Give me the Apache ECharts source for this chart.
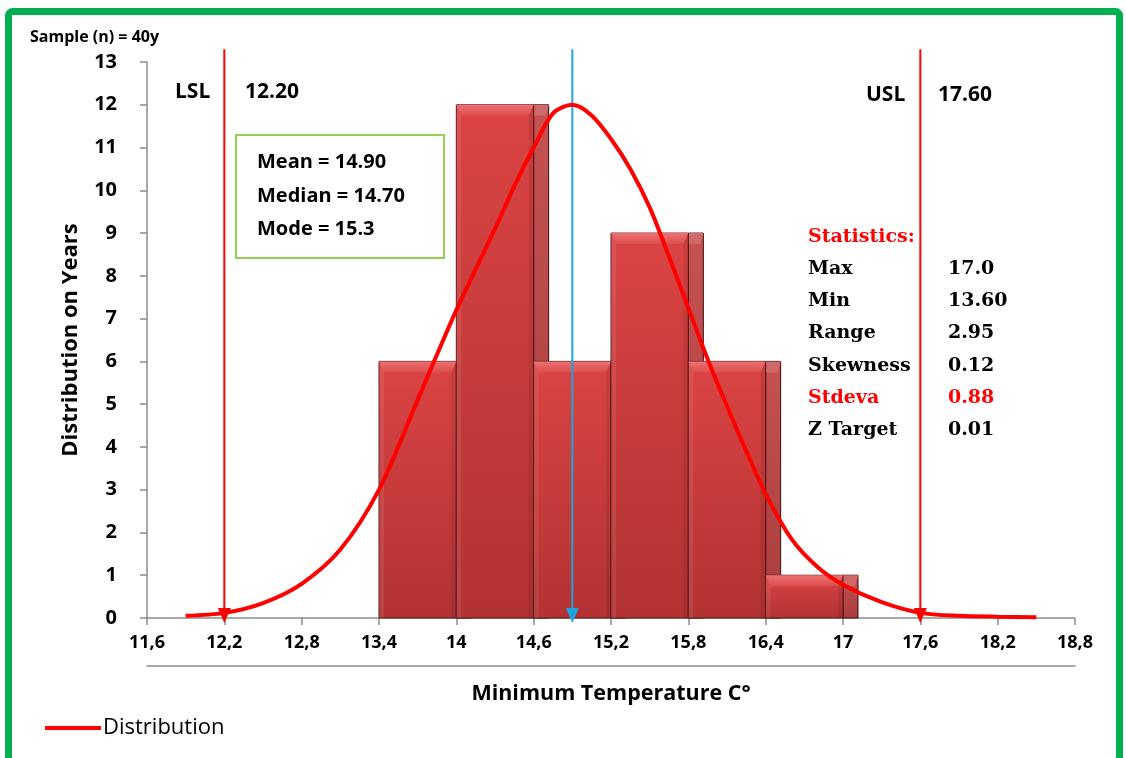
<!DOCTYPE html>
<html><head><meta charset="utf-8">
<script src="https://cdn.jsdelivr.net/npm/echarts@6/dist/echarts.min.js"></script>
<style>html,body{margin:0;padding:0;background:#fff}#c{width:1126px;height:758px}</style>
</head><body><div id="c"></div>
<script>
const xTicks = [11.6, 12.2, 12.8, 13.4, 14, 14.6, 15.2, 15.8, 16.4, 17, 17.6, 18.2, 18.8];
const binStart = [13.4, 14, 14.6, 15.2, 15.8, 16.4];
const binEnd = [14, 14.6, 15.2, 15.8, 16.4, 17];
const counts = [6, 12, 6, 9, 6, 1];
const curveX = [11.9, 12.2, 12.5, 12.8, 13.1, 13.4, 13.7, 14, 14.3, 14.45, 14.6, 14.75, 14.9, 15.05, 15.2, 15.35, 15.5, 15.65, 15.8, 15.95, 16.1, 16.25, 16.4, 16.6, 16.8, 17, 17.3, 17.6, 17.9, 18.2, 18.5];
const curveY = [0.05, 0.12, 0.35, 0.8, 1.6, 3.0, 5.1, 7.2, 9.1, 10.1, 11.0, 11.8, 12.0, 11.75, 11.2, 10.5, 9.6, 8.45, 7.25, 6.05, 4.95, 3.9, 2.9, 1.85, 1.2, 0.78, 0.37, 0.12, 0.05, 0.03, 0.02];
const lsl = 12.2, usl = 17.6, meanVal = 14.9, lineTop = 13.3;
const limitLines = [lsl, usl, meanVal];
const limitColors = ['#ff0000', '#ff0000', '#1ea5e0'];
const lslText = ['LSL', '12.20'];
const uslText = ['USL', '17.60'];
const boxLines = ['Mean = 14.90', 'Median = 14.70', 'Mode = 15.3'];
const statNames = ['Max', 'Min', 'Range', 'Skewness', 'Stdeva', 'Z Target'];
const statValues = ['17.0', '13.60', '2.95', '0.12', '0.88', '0.01'];
const statRed = [false, false, false, false, true, false];

const SANS = '"Open Sans", "Noto Sans", sans-serif';
const SERIF = '"DejaVu Serif", serif';

function renderBar(params, api) {
  const p0 = api.coord([api.value(0), api.value(2)]);
  const p1 = api.coord([api.value(1), 0]);
  const L = p0[0], T = p0[1], R = p1[0], B = p1[1];
  const d = 15, bv = 11, sb = 5;
  const lg = (c1, c2) => new echarts.graphic.LinearGradient(0, 0, 0, 1, [{offset: 0, color: c1}, {offset: 1, color: c2}]);
  return {
    type: 'group',
    children: [
      {type: 'rect', shape: {x: R, y: T, width: d, height: B - T},
        style: {fill: lg('#c65252', '#a83c3c'), stroke: '#3a0e0e', lineWidth: 1}},
      {type: 'polygon', shape: {points: [[R, T], [R + d, T], [R + d - 3, T + bv], [R, T + bv]]},
        style: {fill: '#d06a6a'}},
      {type: 'rect', shape: {x: L, y: T, width: R - L, height: B - T},
        style: {fill: lg('#db4444', '#b33232'), stroke: '#5a1616', lineWidth: 1}},
      {type: 'polygon', shape: {points: [[L, T], [R, T], [R - sb, T + bv], [L + sb, T + bv]]},
        style: {fill: lg('#ee7272', '#dc4d4d')}},
      {type: 'polygon', shape: {points: [[L, T], [L + sb, T + bv], [L + sb, B], [L, B]]},
        style: {fill: 'rgba(255,255,255,0.08)'}},
      {type: 'polygon', shape: {points: [[R, T], [R - sb, T + bv], [R - sb, B], [R, B]]},
        style: {fill: 'rgba(0,0,0,0.08)'}}
    ]
  };
}

function renderLimit(params, api) {
  const top = api.coord([api.value(0), lineTop]);
  const bot = api.coord([api.value(0), 0]);
  const col = limitColors[params.dataIndex];
  const x = top[0];
  return {
    type: 'group',
    children: [
      {type: 'line', shape: {x1: x, y1: top[1], x2: x, y2: bot[1] - 4}, style: {stroke: col, lineWidth: 2}},
      {type: 'polygon', shape: {points: [[x - 6.5, bot[1] - 10], [x + 6.5, bot[1] - 10], [x, bot[1] + 5]]}, style: {fill: col}}
    ]
  };
}

const graphics = [
  {type: 'rect', shape: {x: 8.5, y: 11.5, width: 1111, height: 800, r: 4},
    style: {fill: 'none', stroke: '#00b050', lineWidth: 7}, silent: true},
  {type: 'text', left: 30, top: 29, style: {text: 'Sample (n) = 40y', font: 'bold 16px ' + SANS, fill: '#000'}},
  {type: 'text', x: 175, y: 92, style: {text: lslText[0], font: 'bold 21px ' + SANS, fill: '#000', verticalAlign: 'middle'}},
  {type: 'text', x: 245, y: 92, style: {text: lslText[1], font: 'bold 21px ' + SANS, fill: '#000', verticalAlign: 'middle'}},
  {type: 'text', x: 866, y: 95, style: {text: uslText[0], font: 'bold 21px ' + SANS, fill: '#000', verticalAlign: 'middle'}},
  {type: 'text', x: 938, y: 95, style: {text: uslText[1], font: 'bold 21px ' + SANS, fill: '#000', verticalAlign: 'middle'}},
  {type: 'rect', shape: {x: 236, y: 135, width: 208, height: 123},
    style: {fill: '#fff', stroke: '#92d050', lineWidth: 2}, z: 10}
];
const boxY = [162, 196, 229];
boxLines.forEach((t, i) => graphics.push({type: 'text', x: 257, y: boxY[i], z: 11,
  style: {text: t, font: 'bold 20px ' + SANS, fill: '#000', verticalAlign: 'middle'}}));
graphics.push({type: 'text', x: 808, y: 237, style: {text: 'Statistics:', font: 'bold 19px ' + SERIF, fill: '#ff0000', verticalAlign: 'middle'}});
const statY = [269, 301, 333, 366, 398, 430];
statNames.forEach((t, i) => {
  const col = statRed[i] ? '#ff0000' : '#000';
  graphics.push({type: 'text', x: 808, y: statY[i], style: {text: t, font: 'bold 19px ' + SERIF, fill: col, verticalAlign: 'middle'}});
  graphics.push({type: 'text', x: 948, y: statY[i], style: {text: statValues[i], font: 'bold 19px ' + SERIF, fill: col, verticalAlign: 'middle'}});
});

const chart = echarts.init(document.getElementById('c'), null, {renderer: 'canvas'});
chart.setOption({
  animation: false,
  backgroundColor: '#fff',
  grid: {left: 147, right: 51, top: 62, bottom: 140},
  legend: {
    data: ['Distribution'], left: 40, top: 712, icon: 'rect', itemWidth: 56, itemHeight: 4, itemGap: 4,
    textStyle: {fontSize: 22, fontFamily: SANS, color: '#000', padding: [0, 0, 0, -3]}
  },
  xAxis: [{
    type: 'value', min: 11.6, max: 18.8,
    name: 'Minimum Temperature C°', nameLocation: 'middle', nameGap: 65,
    nameTextStyle: {fontSize: 21.5, fontWeight: 'bold', fontFamily: SANS, color: '#000'},
    axisLine: {show: true, lineStyle: {color: '#8c8c8c', width: 1.5}},
    axisTick: {show: true, length: 7, customValues: xTicks, lineStyle: {color: '#8c8c8c', width: 1.5}},
    axisLabel: {customValues: xTicks, fontSize: 18, fontWeight: 'bold', fontFamily: SANS, color: '#000', margin: 16,
      formatter: v => String(v).replace('.', ',')},
    splitLine: {show: false}
  }, {
    type: 'value', min: 11.6, max: 18.8, position: 'bottom', offset: 48,
    axisLine: {show: true, onZero: false, lineStyle: {color: '#8c8c8c', width: 1.5}},
    axisTick: {show: false}, axisLabel: {show: false}, splitLine: {show: false}
  }],
  yAxis: {
    type: 'value', min: 0, max: 13, interval: 1,
    name: 'Distribution on Years', nameLocation: 'middle', nameGap: 65, nameRotate: 90,
    nameTextStyle: {fontSize: 22, fontWeight: 'bold', fontFamily: SANS, color: '#000'},
    axisLine: {show: true, lineStyle: {color: '#8c8c8c', width: 1.5}},
    axisTick: {show: true, length: 7, lineStyle: {color: '#8c8c8c', width: 1.5}},
    axisLabel: {fontSize: 20, fontWeight: 'bold', fontFamily: SANS, color: '#000', margin: 30},
    splitLine: {show: false}
  },
  series: [{
    type: 'custom', renderItem: renderBar, xAxisIndex: 0,
    encode: {x: [0, 1], y: 2},
    data: binStart.map((s, i) => [s, binEnd[i], counts[i]]), z: 2
  }, {
    type: 'custom', renderItem: renderLimit, xAxisIndex: 0, clip: false,
    encode: {x: 0, y: 1},
    data: limitLines.map(v => [v, 0]), z: 3
  }, {
    name: 'Distribution', type: 'line', xAxisIndex: 0, smooth: 0.3, showSymbol: false, clip: false,
    data: curveX.map((x, i) => [x, curveY[i]]),
    lineStyle: {color: '#ff0000', width: 4}, itemStyle: {color: '#ff0000'}, z: 4
  }],
  graphic: graphics
});
</script></body></html>
